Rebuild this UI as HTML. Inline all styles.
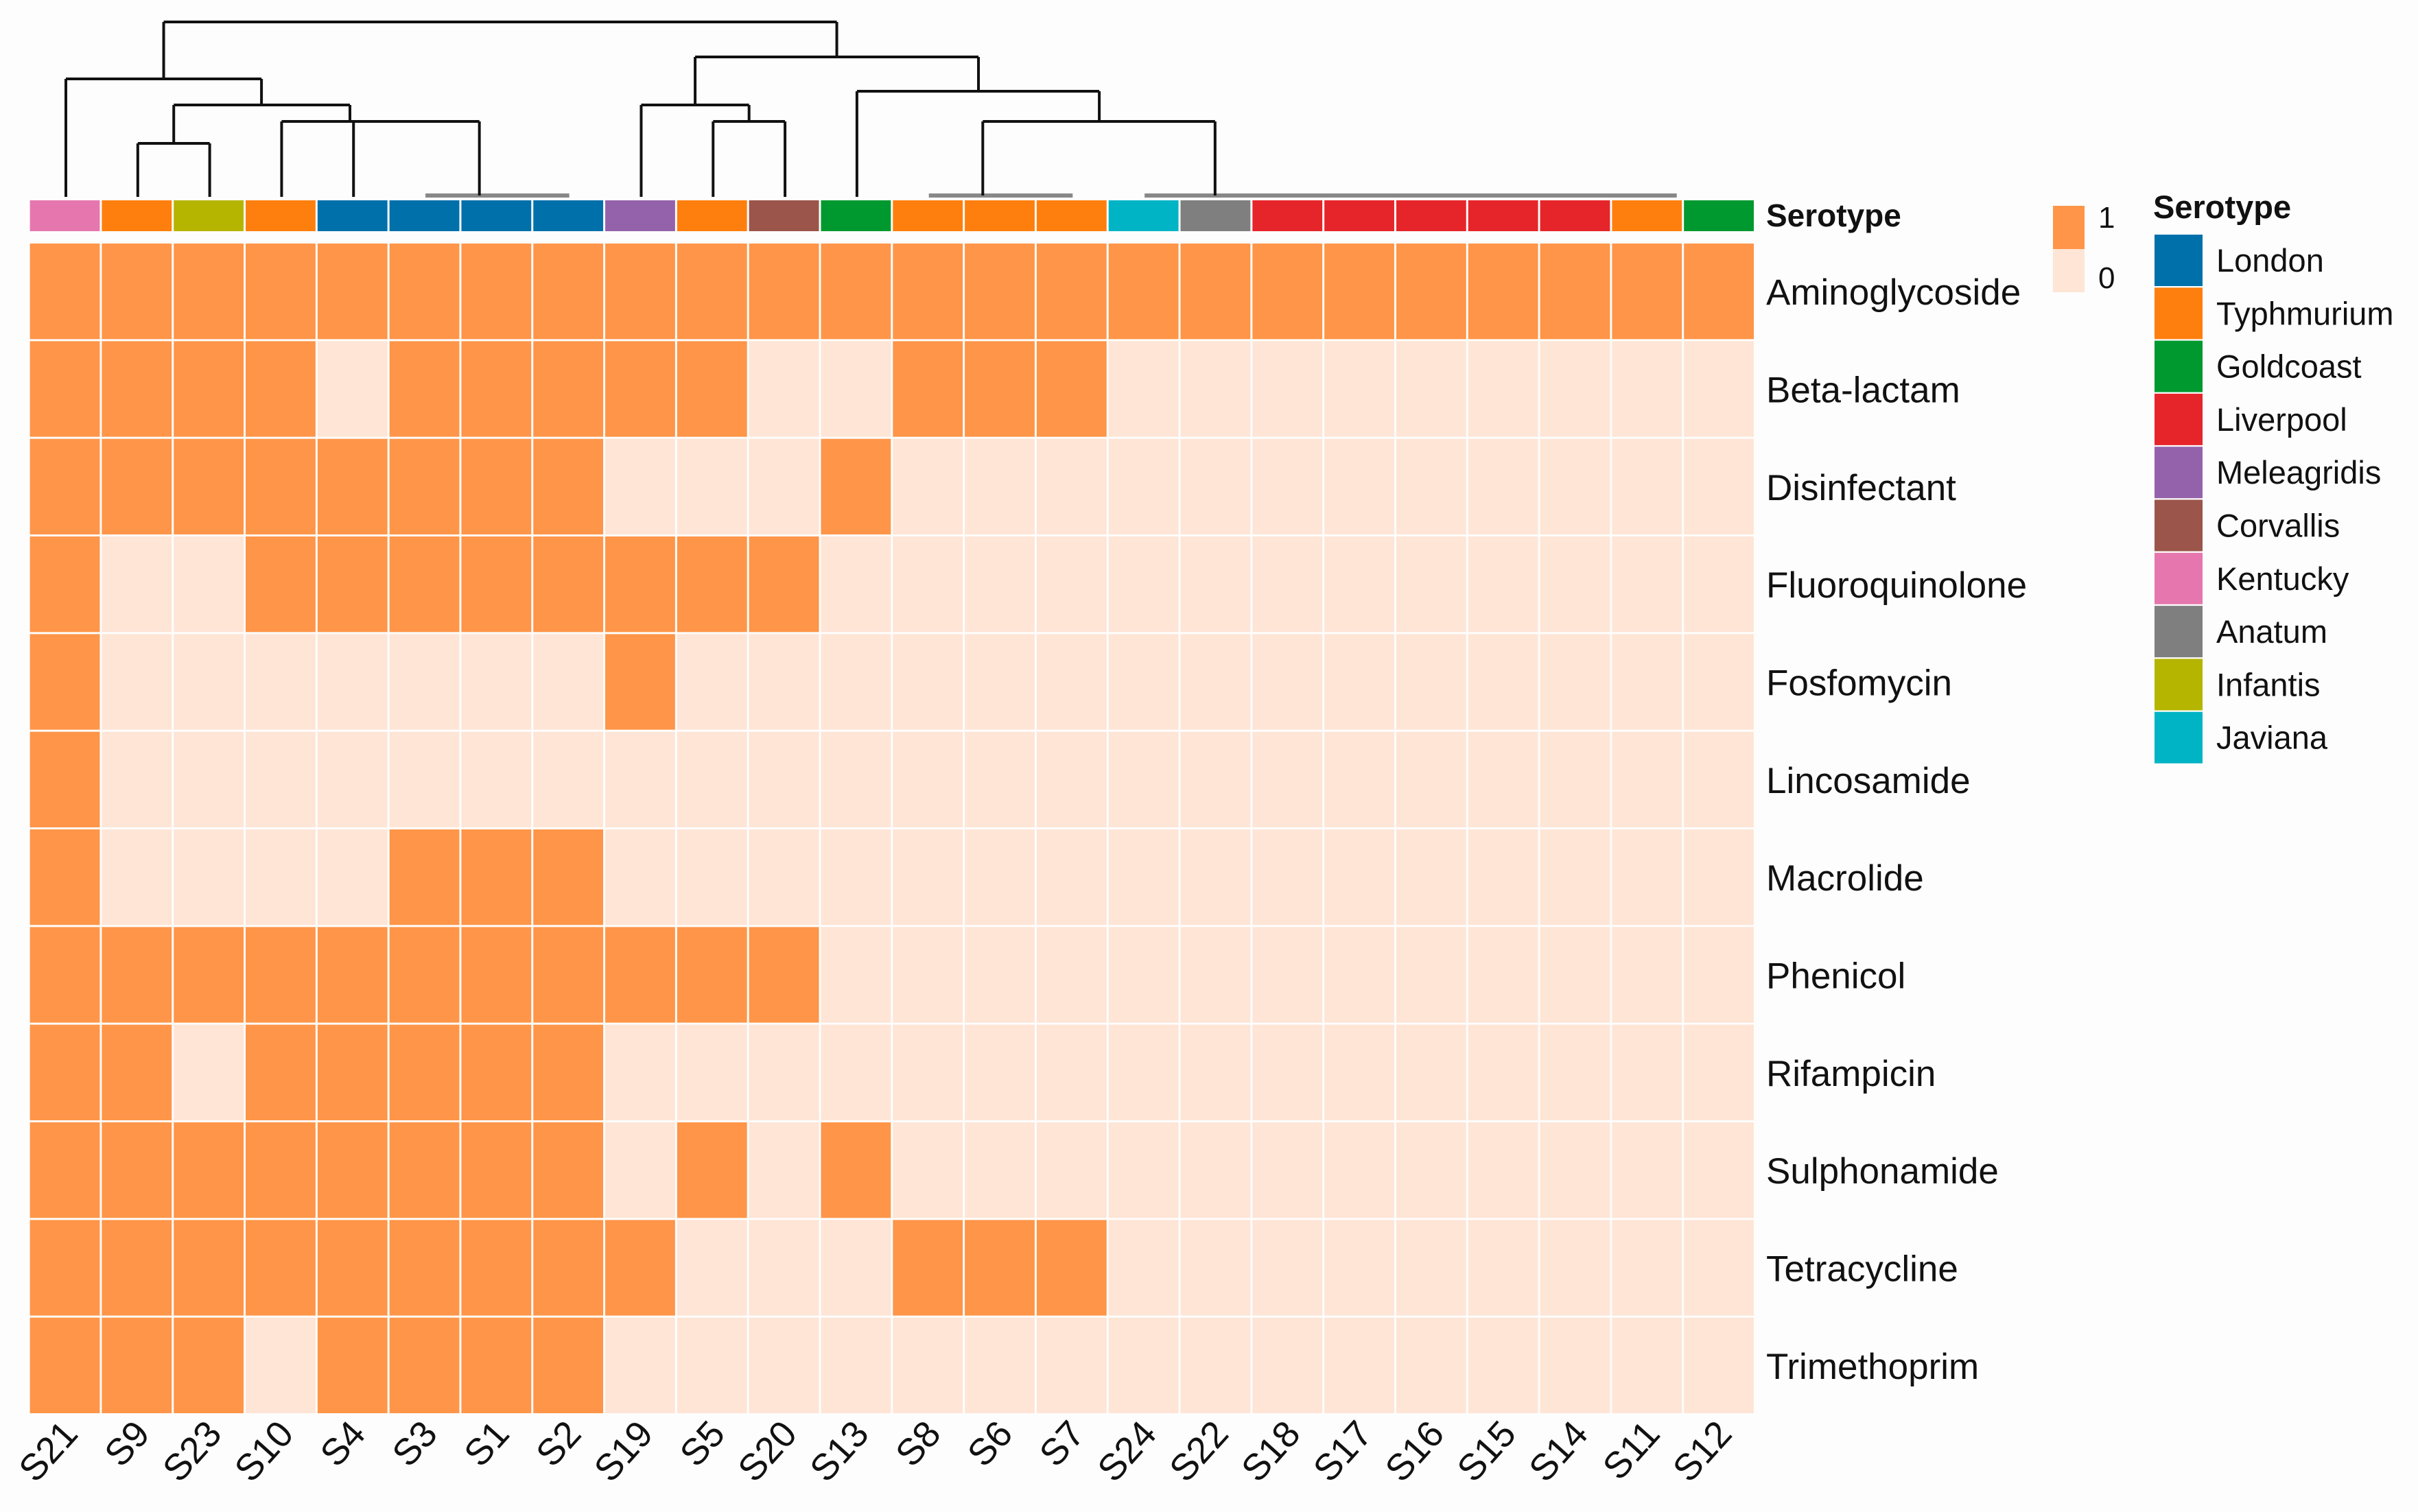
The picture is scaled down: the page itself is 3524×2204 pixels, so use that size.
<!DOCTYPE html>
<html><head><meta charset="utf-8"><style>
html,body{margin:0;padding:0;background:#fff;}
svg{display:block;font-family:"Liberation Sans",Arial,sans-serif;}
</style></head><body>
<svg id="chart" width="3524" height="2204" viewBox="0 0 3524 2204" xmlns="http://www.w3.org/2000/svg">
<rect width="3524" height="2204" fill="#fdfdfd"/>
<g id="dendro"></g>
<g id="anno"></g>
<g id="cells"></g>
<g id="rowlabels"></g>
<g id="collabels"></g>
<g id="legend"></g>
</svg>
<script>
const samples = ["S21","S9","S23","S10","S4","S3","S1","S2","S19","S5","S20","S13","S8","S6","S7","S24","S22","S18","S17","S16","S15","S14","S11","S12"];
const serotypes = ["Kentucky","Typhmurium","Infantis","Typhmurium","London","London","London","London","Meleagridis","Typhmurium","Corvallis","Goldcoast","Typhmurium","Typhmurium","Typhmurium","Javiana","Anatum","Liverpool","Liverpool","Liverpool","Liverpool","Liverpool","Typhmurium","Goldcoast"];
const classes = ["Aminoglycoside","Beta-lactam","Disinfectant","Fluoroquinolone","Fosfomycin","Lincosamide","Macrolide","Phenicol","Rifampicin","Sulphonamide","Tetracycline","Trimethoprim"];
const rAminoglycoside = [1,1,1,1,1,1,1,1,1,1,1,1,1,1,1,1,1,1,1,1,1,1,1,1];
const rBetaLactam     = [1,1,1,1,0,1,1,1,1,1,0,0,1,1,1,0,0,0,0,0,0,0,0,0];
const rDisinfectant   = [1,1,1,1,1,1,1,1,0,0,0,1,0,0,0,0,0,0,0,0,0,0,0,0];
const rFluoro         = [1,0,0,1,1,1,1,1,1,1,1,0,0,0,0,0,0,0,0,0,0,0,0,0];
const rFosfomycin     = [1,0,0,0,0,0,0,0,1,0,0,0,0,0,0,0,0,0,0,0,0,0,0,0];
const rLincosamide    = [1,0,0,0,0,0,0,0,0,0,0,0,0,0,0,0,0,0,0,0,0,0,0,0];
const rMacrolide      = [1,0,0,0,0,1,1,1,0,0,0,0,0,0,0,0,0,0,0,0,0,0,0,0];
const rPhenicol       = [1,1,1,1,1,1,1,1,1,1,1,0,0,0,0,0,0,0,0,0,0,0,0,0];
const rRifampicin     = [1,1,0,1,1,1,1,1,0,0,0,0,0,0,0,0,0,0,0,0,0,0,0,0];
const rSulphonamide   = [1,1,1,1,1,1,1,1,0,1,0,1,0,0,0,0,0,0,0,0,0,0,0,0];
const rTetracycline   = [1,1,1,1,1,1,1,1,1,0,0,0,1,1,1,0,0,0,0,0,0,0,0,0];
const rTrimethoprim   = [1,1,1,0,1,1,1,1,0,0,0,0,0,0,0,0,0,0,0,0,0,0,0,0];
const matrix = [rAminoglycoside,rBetaLactam,rDisinfectant,rFluoro,rFosfomycin,rLincosamide,rMacrolide,rPhenicol,rRifampicin,rSulphonamide,rTetracycline,rTrimethoprim];
const legendNames = ["London","Typhmurium","Goldcoast","Liverpool","Meleagridis","Corvallis","Kentucky","Anatum","Infantis","Javiana"];
const legendColors = ["#0070ab","#ff7f0e","#00992f","#e6252a","#9462ab","#9b554a","#e577ae","#7f7f7f","#b5b500","#00b4c6"];

const NS="http://www.w3.org/2000/svg";
function mk(tag, attrs, parent){const e=document.createElementNS(NS,tag);for(const k in attrs)e.setAttribute(k,attrs[k]);parent.appendChild(e);return e;}
const X0=43.6, X1=2559, Y0=355, Y1=2063;
const cw=(X1-X0)/samples.length, rh=(Y1-Y0)/classes.length;
const xs=i=>X0+i*cw, xc=i=>X0+(i+0.5)*cw, ys=j=>Y0+j*rh;
const col={}; legendNames.forEach((n,i)=>col[n]=legendColors[i]);
const ON="#fe9548", OFF="#fee5d6";

const cells=document.getElementById('cells');
matrix.forEach((row,j)=>row.forEach((v,i)=>{
  const r=mk('rect',{x:xs(i),y:ys(j),width:cw-3,height:rh-3,fill:v?ON:OFF},cells);
  
  
}));
const rl=document.getElementById('rowlabels');
classes.forEach((c,j)=>{
  const t=mk('text',{x:2574,y:ys(j)+rh/2+18,'font-size':53,fill:'#111'},rl);
  t.textContent=c;
  
  
});
const an=document.getElementById('anno');
serotypes.forEach((s,i)=>{
  const r=mk('rect',{x:xs(i),y:292,width:cw-3,height:45,fill:col[s]},an);
  
  
});
const at=mk('text',{x:2574,y:330,'font-size':46,'font-weight':'bold',fill:'#111'},an);
at.textContent='Serotype';


const cl=document.getElementById('collabels');
samples.forEach((s,i)=>{
  const x=xc(i)+20,y=2092;
  const t=mk('text',{x:x,y:y,'font-size':54,fill:'#111','text-anchor':'end',transform:`rotate(-48 ${x} ${y})`},cl);
  t.textContent=s;
  
  
});
const dg=document.getElementById('dendro');
function ln(x1,y1,x2,y2,c,w){const l=mk('line',{x1,y1,x2,y2,stroke:c||'#111','stroke-width':w||4},dg);
  
  }
const P=v=>X0+(v+0.5)*cw;
const leafY=287;
ln(P(5),285,P(7),285,'#888',6); ln(P(12),285,P(14),285,'#888',6); ln(P(15),285,P(22.4),285,'#888',6);
ln(P(1),209,P(2),209); ln(P(1),209,P(1),leafY); ln(P(2),209,P(2),leafY);
ln(P(3),177,P(5.75),177); ln(P(3),177,P(3),leafY); ln(P(4),177,P(4),leafY); ln(P(5.75),177,P(5.75),285);
ln(P(1.5),153,P(3.95),153); ln(P(1.5),153,P(1.5),209); ln(P(3.95),153,P(3.95),177);
ln(P(0),115,P(2.72),115); ln(P(0),115,P(0),leafY); ln(P(2.72),115,P(2.72),153);
ln(P(9),177,P(10),177); ln(P(9),177,P(9),leafY); ln(P(10),177,P(10),leafY);
ln(P(8),153,P(9.5),153); ln(P(8),153,P(8),leafY); ln(P(9.5),153,P(9.5),177);
ln(P(12.75),177,P(15.98),177); ln(P(12.75),177,P(12.75),285); ln(P(15.98),177,P(15.98),285);
ln(P(11),133,P(14.37),133); ln(P(11),133,P(11),leafY); ln(P(14.37),133,P(14.37),177);
ln(P(8.75),83,P(12.69),83); ln(P(8.75),83,P(8.75),153); ln(P(12.69),83,P(12.69),133);
ln(P(1.36),32,P(10.72),32); ln(P(1.36),32,P(1.36),115); ln(P(10.72),32,P(10.72),83);
const lg=document.getElementById('legend');
const v1=mk('rect',{x:2992,y:300,width:46,height:63,fill:ON},lg);

const v0=mk('rect',{x:2992,y:363,width:46,height:63,fill:OFF},lg);

const t1=mk('text',{x:3058,y:332,'font-size':44,fill:'#111'},lg);t1.textContent='1';

const t0=mk('text',{x:3058,y:420,'font-size':44,fill:'#111'},lg);t0.textContent='0';

const lt=mk('text',{x:3138,y:318,'font-size':47,'font-weight':'bold',fill:'#111'},lg);lt.textContent='Serotype';

legendNames.forEach((n,k)=>{
  const y=342+k*77.3;
  const r=mk('rect',{x:3140,y:y,width:70,height:75,fill:legendColors[k]},lg);
  
  
  const t=mk('text',{x:3230,y:y+54,'font-size':47,fill:'#111'},lg);
  t.textContent=n;
  
  
});
</script>
</body></html>
